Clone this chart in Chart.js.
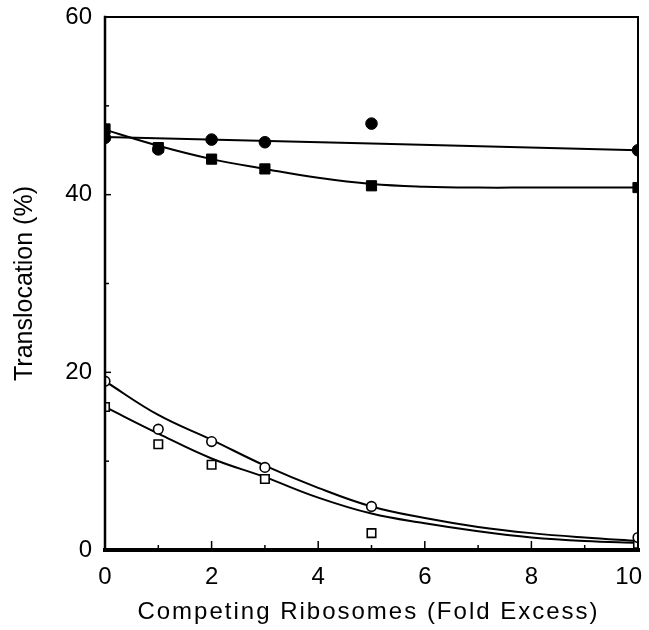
<!DOCTYPE html>
<html>
<head>
<meta charset="utf-8">
<script src="https://cdn.jsdelivr.net/npm/chart.js@4/dist/chart.umd.min.js"></script>
<style>
  html, body { margin: 0; padding: 0; background: #fff; }
  #wrap { width: 649px; height: 630px; position: relative; }
</style>
</head>
<body>
<div id="wrap"><canvas id="c" width="649" height="630"></canvas></div>
<script>
// ---- data ----
const doseX = [0, 1, 2, 3, 5, 10];
const filledCircles = [46.4, 45.1, 46.2, 45.9, 48.0, 45.0];
const filledSquares = [47.4, 45.3, 44.0, 42.9, 41.0, 40.8];
const openCircles   = [19.0, 13.6, 12.2, 9.3, 4.9, 1.4];
const openSquares   = [16.1, 11.9, 9.6, 8.0, 1.9, 0.7];

// fitted curves
const flatLineX = [0, 10];
const filledCircleFit = [46.5, 45.0];
const curveX = [0, 1, 2, 3, 4, 5, 6, 7, 8, 9, 10];
const filledSquareFit = [47.3, 45.5, 44.0, 42.9, 41.9, 41.2, 40.9, 40.8, 40.8, 40.8, 40.8];
const openCircleFit   = [19.0, 15.2, 12.4, 9.5, 7.0, 4.9, 3.6, 2.6, 1.9, 1.4, 1.0];
const openSquareFit   = [16.1, 13.1, 10.3, 8.2, 5.9, 4.1, 3.0, 2.1, 1.4, 1.0, 0.8];

// ticks and labels
const xMajorTicks = [0, 2, 4, 6, 8, 10];
const xMinorTicks = [1, 3, 5, 7, 9];
const yMajorTicks = [0, 20, 40, 60];
const yMinorTicks = [10, 30, 50];
const xTitle = 'Competing Ribosomes (Fold Excess)';
const yTitle = 'Translocation (%)';

const FONT = '"Liberation Sans", Arial, Helvetica, sans-serif';

function pts(xs, ys) { return xs.map((x, i) => ({ x: x, y: ys[i] })); }

function fitSet(xs, ys) {
  return {
    type: 'line', data: pts(xs, ys), borderColor: '#000', borderWidth: 2,
    pointRadius: 0, fill: false, tension: 0.4, order: 2
  };
}
function markSet(ys, style, r, filled) {
  return {
    type: 'scatter', data: pts(doseX, ys), showLine: false,
    pointStyle: style, pointRadius: r, pointHoverRadius: r,
    pointBackgroundColor: filled ? '#000' : '#fff',
    pointBorderColor: '#000', pointBorderWidth: filled ? 1 : 1.6, order: 1
  };
}

const framePlugin = {
  id: 'frame',
  afterDatasetsDraw(chart) {
    const ctx = chart.ctx;
    const xs = chart.scales.x, ys = chart.scales.y;
    const L = xs.getPixelForValue(0), R = xs.getPixelForValue(10);
    const T = ys.getPixelForValue(60), B = ys.getPixelForValue(0);
    ctx.save();
    ctx.strokeStyle = '#000';
    ctx.lineCap = 'square';
    ctx.lineWidth = 2.5; ctx.beginPath(); ctx.moveTo(L, T); ctx.lineTo(L, B); ctx.stroke();
    ctx.lineWidth = 2; ctx.beginPath(); ctx.moveTo(L, T); ctx.lineTo(R, T); ctx.stroke();
    ctx.lineWidth = 2; ctx.beginPath(); ctx.moveTo(R, T); ctx.lineTo(R, B); ctx.stroke();
    ctx.lineWidth = 4; ctx.beginPath(); ctx.moveTo(L, B); ctx.lineTo(R, B); ctx.stroke();
    // inward ticks
    ctx.lineCap = 'butt';
    ctx.lineWidth = 1.5;
    xMajorTicks.forEach(v => { const p = xs.getPixelForValue(v); ctx.beginPath(); ctx.moveTo(p, B); ctx.lineTo(p, B - 9); ctx.stroke(); });
    xMinorTicks.forEach(v => { const p = xs.getPixelForValue(v); ctx.beginPath(); ctx.moveTo(p, B); ctx.lineTo(p, B - 5); ctx.stroke(); });
    yMajorTicks.forEach(v => { const p = ys.getPixelForValue(v); ctx.beginPath(); ctx.moveTo(L, p); ctx.lineTo(L + 6, p); ctx.stroke(); });
    yMinorTicks.forEach(v => { const p = ys.getPixelForValue(v); ctx.beginPath(); ctx.moveTo(L, p); ctx.lineTo(L + 4, p); ctx.stroke(); });
    // x tick labels (kept inside the canvas like the reference)
    ctx.fillStyle = '#000';
    ctx.font = '24px ' + FONT;
    ctx.textAlign = 'center';
    ctx.textBaseline = 'middle';
    xMajorTicks.forEach(v => {
      const s = String(v);
      const w = ctx.measureText(s).width;
      let p = xs.getPixelForValue(v);
      if (p + w / 2 > 642) p = 642 - w / 2;
      ctx.fillText(s, p, 577);
    });
    // x-axis title
    try { ctx.letterSpacing = '2px'; } catch (e) {}
    ctx.fillText(xTitle, (L + R) / 2 - 3, 612);
    ctx.restore();
  }
};

new Chart(document.getElementById('c'), {
  data: {
    datasets: [
      fitSet(flatLineX, filledCircleFit),
      fitSet(curveX, filledSquareFit),
      fitSet(curveX, openCircleFit),
      fitSet(curveX, openSquareFit),
      markSet(filledCircles, 'circle', 5.8, true),
      markSet(filledSquares, 'rect', 7.2, true),
      markSet(openCircles, 'circle', 4.8, false),
      markSet(openSquares, 'rect', 6, false)
    ]
  },
  options: {
    responsive: false,
    animation: false,
    events: [],
    layout: { padding: { left: 0, top: 17, right: 11, bottom: 0 } },
    plugins: { legend: { display: false }, tooltip: { enabled: false } },
    scales: {
      x: {
        type: 'linear', min: 0, max: 10,
        grid: { display: false, drawTicks: false },
        border: { display: false },
        ticks: { display: false, stepSize: 2 },
        afterFit(s) { s.height = 80; s.paddingLeft = 0; s.paddingRight = 0; }
      },
      y: {
        type: 'linear', min: 0, max: 60,
        grid: { display: false, drawTicks: false },
        border: { display: false },
        ticks: {
          stepSize: 20, padding: 13, color: '#000',
          font: { family: FONT, size: 24 }
        },
        title: {
          display: true, text: yTitle, color: '#000',
          font: { family: FONT, size: 25 },
          padding: { top: 10, bottom: 0 }
        },
        afterFit(s) { s.width = 105; s.paddingTop = 0; s.paddingBottom = 0; }
      }
    }
  },
  plugins: [framePlugin]
});
</script>
</body>
</html>
